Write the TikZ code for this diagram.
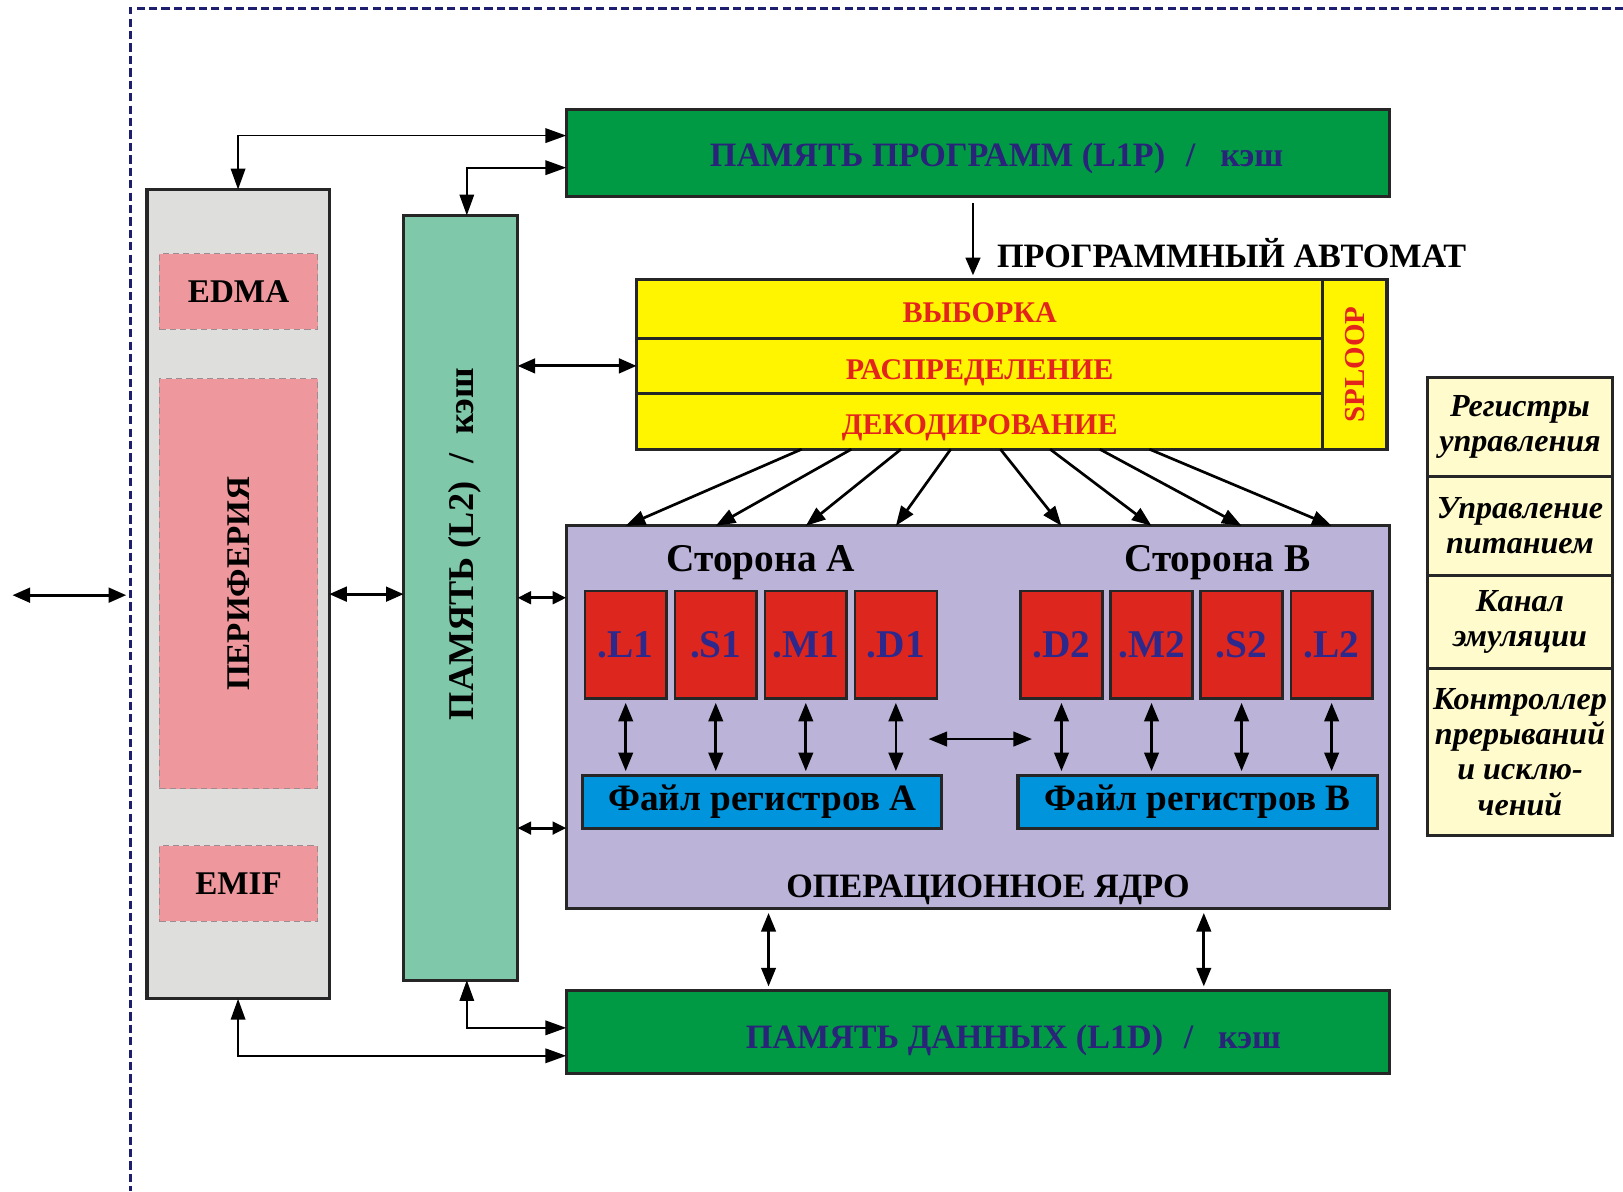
\documentclass[tikz,border=0pt]{standalone}
\usepackage{fontspec}
\setmainfont{Liberation Serif}
\usetikzlibrary{arrows.meta, positioning, calc}

\definecolor{memgreen}{HTML}{009A44}
\definecolor{memnavy}{HTML}{29247A}
\definecolor{perigrey}{HTML}{DEDFDC}
\definecolor{peripink}{HTML}{EE989E}
\definecolor{pinkedge}{HTML}{A08C90}
\definecolor{ltwoteal}{HTML}{80C8AA}
\definecolor{pcuyellow}{HTML}{FFF500}
\definecolor{stagered}{HTML}{E3241C}
\definecolor{corelav}{HTML}{BBB3D8}
\definecolor{unitred}{HTML}{DC261E}
\definecolor{unitnavy}{HTML}{2D288C}
\definecolor{regblue}{HTML}{0094DC}
\definecolor{ctrlyellow}{HTML}{FFFBCD}
\definecolor{framenavy}{HTML}{1E1E6E}

\newcommand{\fsz}[1]{\fontsize{#1}{#1}\selectfont}

\tikzset{
    dsp/.style={x=0.5pt, y=-0.5pt, >={Triangle[length=8.5pt, width=7pt]}, font=\bfseries},
    box/.style={draw=black!85, line width=1.5pt, inner sep=0pt, outer sep=0pt},
    pinkbox/.style={draw=pinkedge, densely dashed, line width=0.5pt, fill=peripink,
        minimum width=76.5pt, inner sep=0pt, font=\bfseries\fsz{16}},
    memtext/.style={text=memnavy, inner sep=0pt, font=\bfseries\fsz{16.5}},
    vtext/.style={rotate=90, inner sep=0pt, font=\bfseries\fsz{17.5}},
    stage/.style={box, fill=pcuyellow, minimum width=331.5pt, text=stagered,
        text height=13pt, text depth=0pt, font=\bfseries\fsz{14.5}},
    unit/.style={box, line width=1.2pt, fill=unitred, minimum width=39.5pt, minimum height=52pt,
        text=unitnavy, font=\bfseries\fsz{19}},
    regfile/.style={box, fill=regblue, minimum width=173.5pt, minimum height=25.5pt, font=\bfseries\fsz{18}},
    sidelbl/.style={inner sep=0pt, font=\bfseries\fsz{19}},
    ctrl/.style={box, fill=ctrlyellow, minimum width=89.5pt, align=center,
        font=\bfseries\itshape\fontsize{15.5}{17}\selectfont},
    frame/.style={draw=framenavy, line width=1.3pt, dash pattern=on 4pt off 2pt},
    link/.style={<->, line width=0.8pt, >={Triangle[length=10pt, width=7pt]}},
    dbl/.style={<->, line width=1.5pt},
    short/.style={<->, line width=1.5pt, >={Triangle[length=6.5pt, width=6pt]}},
    dbl2/.style={<->, line width=1.3pt, >={Triangle[length=9pt, width=7pt]}, shorten <=2pt, shorten >=2pt},
    fan/.style={->, line width=1.3pt, >={Triangle[length=9.5pt, width=7pt]}},
}

\begin{document}
\begin{tikzpicture}[dsp]
\useasboundingbox (0,0) rectangle (1568,1151);
\draw[frame] (1568,8) -| (126,1151);

% left column: peripherals and L2
\node[box, fill=perigrey, minimum width=88pt, minimum height=391pt] (periph) at (230,574) {};
\node[pinkbox, minimum height=36.5pt] (edma) at (230.5,281.5) {EDMA};
\node[pinkbox, minimum height=198pt, label={[rotate=90, font=\bfseries\fsz{16}]center:ПЕРИФЕРИЯ}] (perif) at (230.5,564) {};
\node[pinkbox, minimum height=36.5pt] (emif) at (230.5,853.5) {EMIF};

\node[box, fill=ltwoteal, minimum width=55pt, minimum height=369.5pt] (ltwo) at (445,577.5) {};
\node[vtext] (ltwotxt) at ([xshift=2pt, yshift=26pt]ltwo.center) {ПАМЯТЬ (L2)\hspace{9pt}/\hspace{9pt}кэш};

% memories
\node[box, fill=memgreen, minimum width=397.5pt, minimum height=42pt,
    label={[memtext, anchor=east, xshift=-51pt, yshift=-2.5pt]east:{ПАМЯТЬ ПРОГРАММ (L1P)\hspace{10pt}/\hspace{12pt}кэш}}] (lonep) at (944.5,148) {};
\node[box, fill=memgreen, minimum width=397.5pt, minimum height=40pt,
    label={[memtext, anchor=east, xshift=-52pt, yshift=-4pt]east:{ПАМЯТЬ ДАННЫХ (L1D)\hspace{10pt}/\hspace{12pt}кэш}}] (loned) at (944.5,997) {};

% program control unit
\node[stage, minimum height=28.5pt] (fetch) at (946.5,298.5) {ВЫБОРКА};
\node[stage, below=0pt of fetch, minimum height=26.5pt] (dispatch) {РАСПРЕДЕЛЕНИЕ};
\node[stage, below=0pt of dispatch, minimum height=27pt] (decode) {ДЕКОДИРОВАНИЕ};
\node[box, fill=pcuyellow, anchor=north west, minimum width=31pt, minimum height=82pt,
    label={[rotate=90, text=stagered, font=\bfseries\fsz{14}]center:SPLOOP}] (sploop) at (fetch.north east) {};

\coordinate (pa) at ([xshift=-2.25pt, yshift=-3pt]lonep.south);
\draw[->, line width=1.3pt, shorten >=2pt] (pa) -- (pa |- fetch.north)
    node[pos=0.66, right=11pt, inner sep=0pt, font=\bfseries\fsz{16.5}] (autolbl) {ПРОГРАММНЫЙ АВТОМАТ};

% data path
\node[box, fill=corelav, minimum width=397.5pt, minimum height=185pt] (core) at (944.5,693) {};
\node[unit] (l1) at (604.5,623) {.L1};
\node[unit, right=4pt of l1] (s1) {.S1};
\node[unit, right=4pt of s1] (m1) {.M1};
\node[unit, right=4pt of m1] (d1) {.D1};
\node[unit] (d2) at (1025.5,623) {.D2};
\node[unit, right=4pt of d2] (m2) {.M2};
\node[unit, right=4pt of m2] (s2) {.S2};
\node[unit, right=4pt of s2] (l2u) {.L2};
\node[sidelbl, above=5pt of s1.north east, xshift=2pt] (sidea) {Сторона А};
\node[sidelbl, above=5pt of m2.north east, xshift=12pt] (sideb) {Сторона В};
\node[regfile] (rfa) at (736.5,774.5) {Файл регистров А};
\node[regfile] (rfb) at (1157,774.5) {Файл регистров В};
\node[sidelbl, font=\bfseries\fsz{16.5}, anchor=base, xshift=5pt, yshift=5.25pt] (corelbl) at (core.south) {ОПЕРАЦИОННОЕ ЯДРО};

% right panel
\node[ctrl, minimum height=47.5pt] (ctrlreg) at (1468.5,412.5) {Регистры\\управления};
\node[ctrl, below=0pt of ctrlreg, minimum height=48pt] (power) {Управление\\питанием};
\node[ctrl, below=0pt of power, minimum height=45pt] (emu) {Канал\\эмуляции};
\node[ctrl, below=0pt of emu, minimum height=80.5pt] (intc) {Контроллер\\прерываний\\и исклю-\\чений};

% connections
\coordinate (ext) at (12,575);
\draw[dbl, shorten >=10pt] (ext) -- (ext -| periph.west);
\draw[dbl] (periph.east) -- (periph.east -| ltwo.west);
\draw[dbl] (ltwo.east |- dispatch) -- (dispatch.west);
\draw[short] (ltwo.east) -- (ltwo.east -| core.west);
\draw[short] (ltwo.east |- rfa.south) -- (core.west |- rfa.south);

\draw[link] (periph.north) |- ([yshift=8.5pt]lonep.west);
\draw[link] ([xshift=3pt]ltwo.north) |- ([yshift=-7pt]lonep.west);
\draw[link] (periph.south) |- ([yshift=-11.5pt]loned.west);
\draw[link] ([xshift=3pt]ltwo.south) |- ([yshift=2pt]loned.west);

\foreach \u [count=\i from 0] in {l1,s1,m1,d1,d2,m2,s2,l2u}
    \draw[fan] ([xshift={-86pt+24pt*\i}]decode.south) -- (\u |- core.north);

\foreach \u in {l1,s1,m1,d1}
    \draw[dbl2] (\u.south) -- (\u |- rfa.north);
\foreach \u in {d2,m2,s2,l2u}
    \draw[dbl2] (\u.south) -- (\u |- rfb.north);
\coordinate (xa) at (893,714);
\coordinate (xb) at (1001,714);
\draw[dbl2] (xa) -- (xb);

\draw[dbl2] ([xshift=3pt]rfa.south |- core.south) -- ([xshift=3pt]rfa.south |- loned.north);
\draw[dbl2] ([xshift=3pt]rfb.south |- core.south) -- ([xshift=3pt]rfb.south |- loned.north);
\end{tikzpicture}
\end{document}
